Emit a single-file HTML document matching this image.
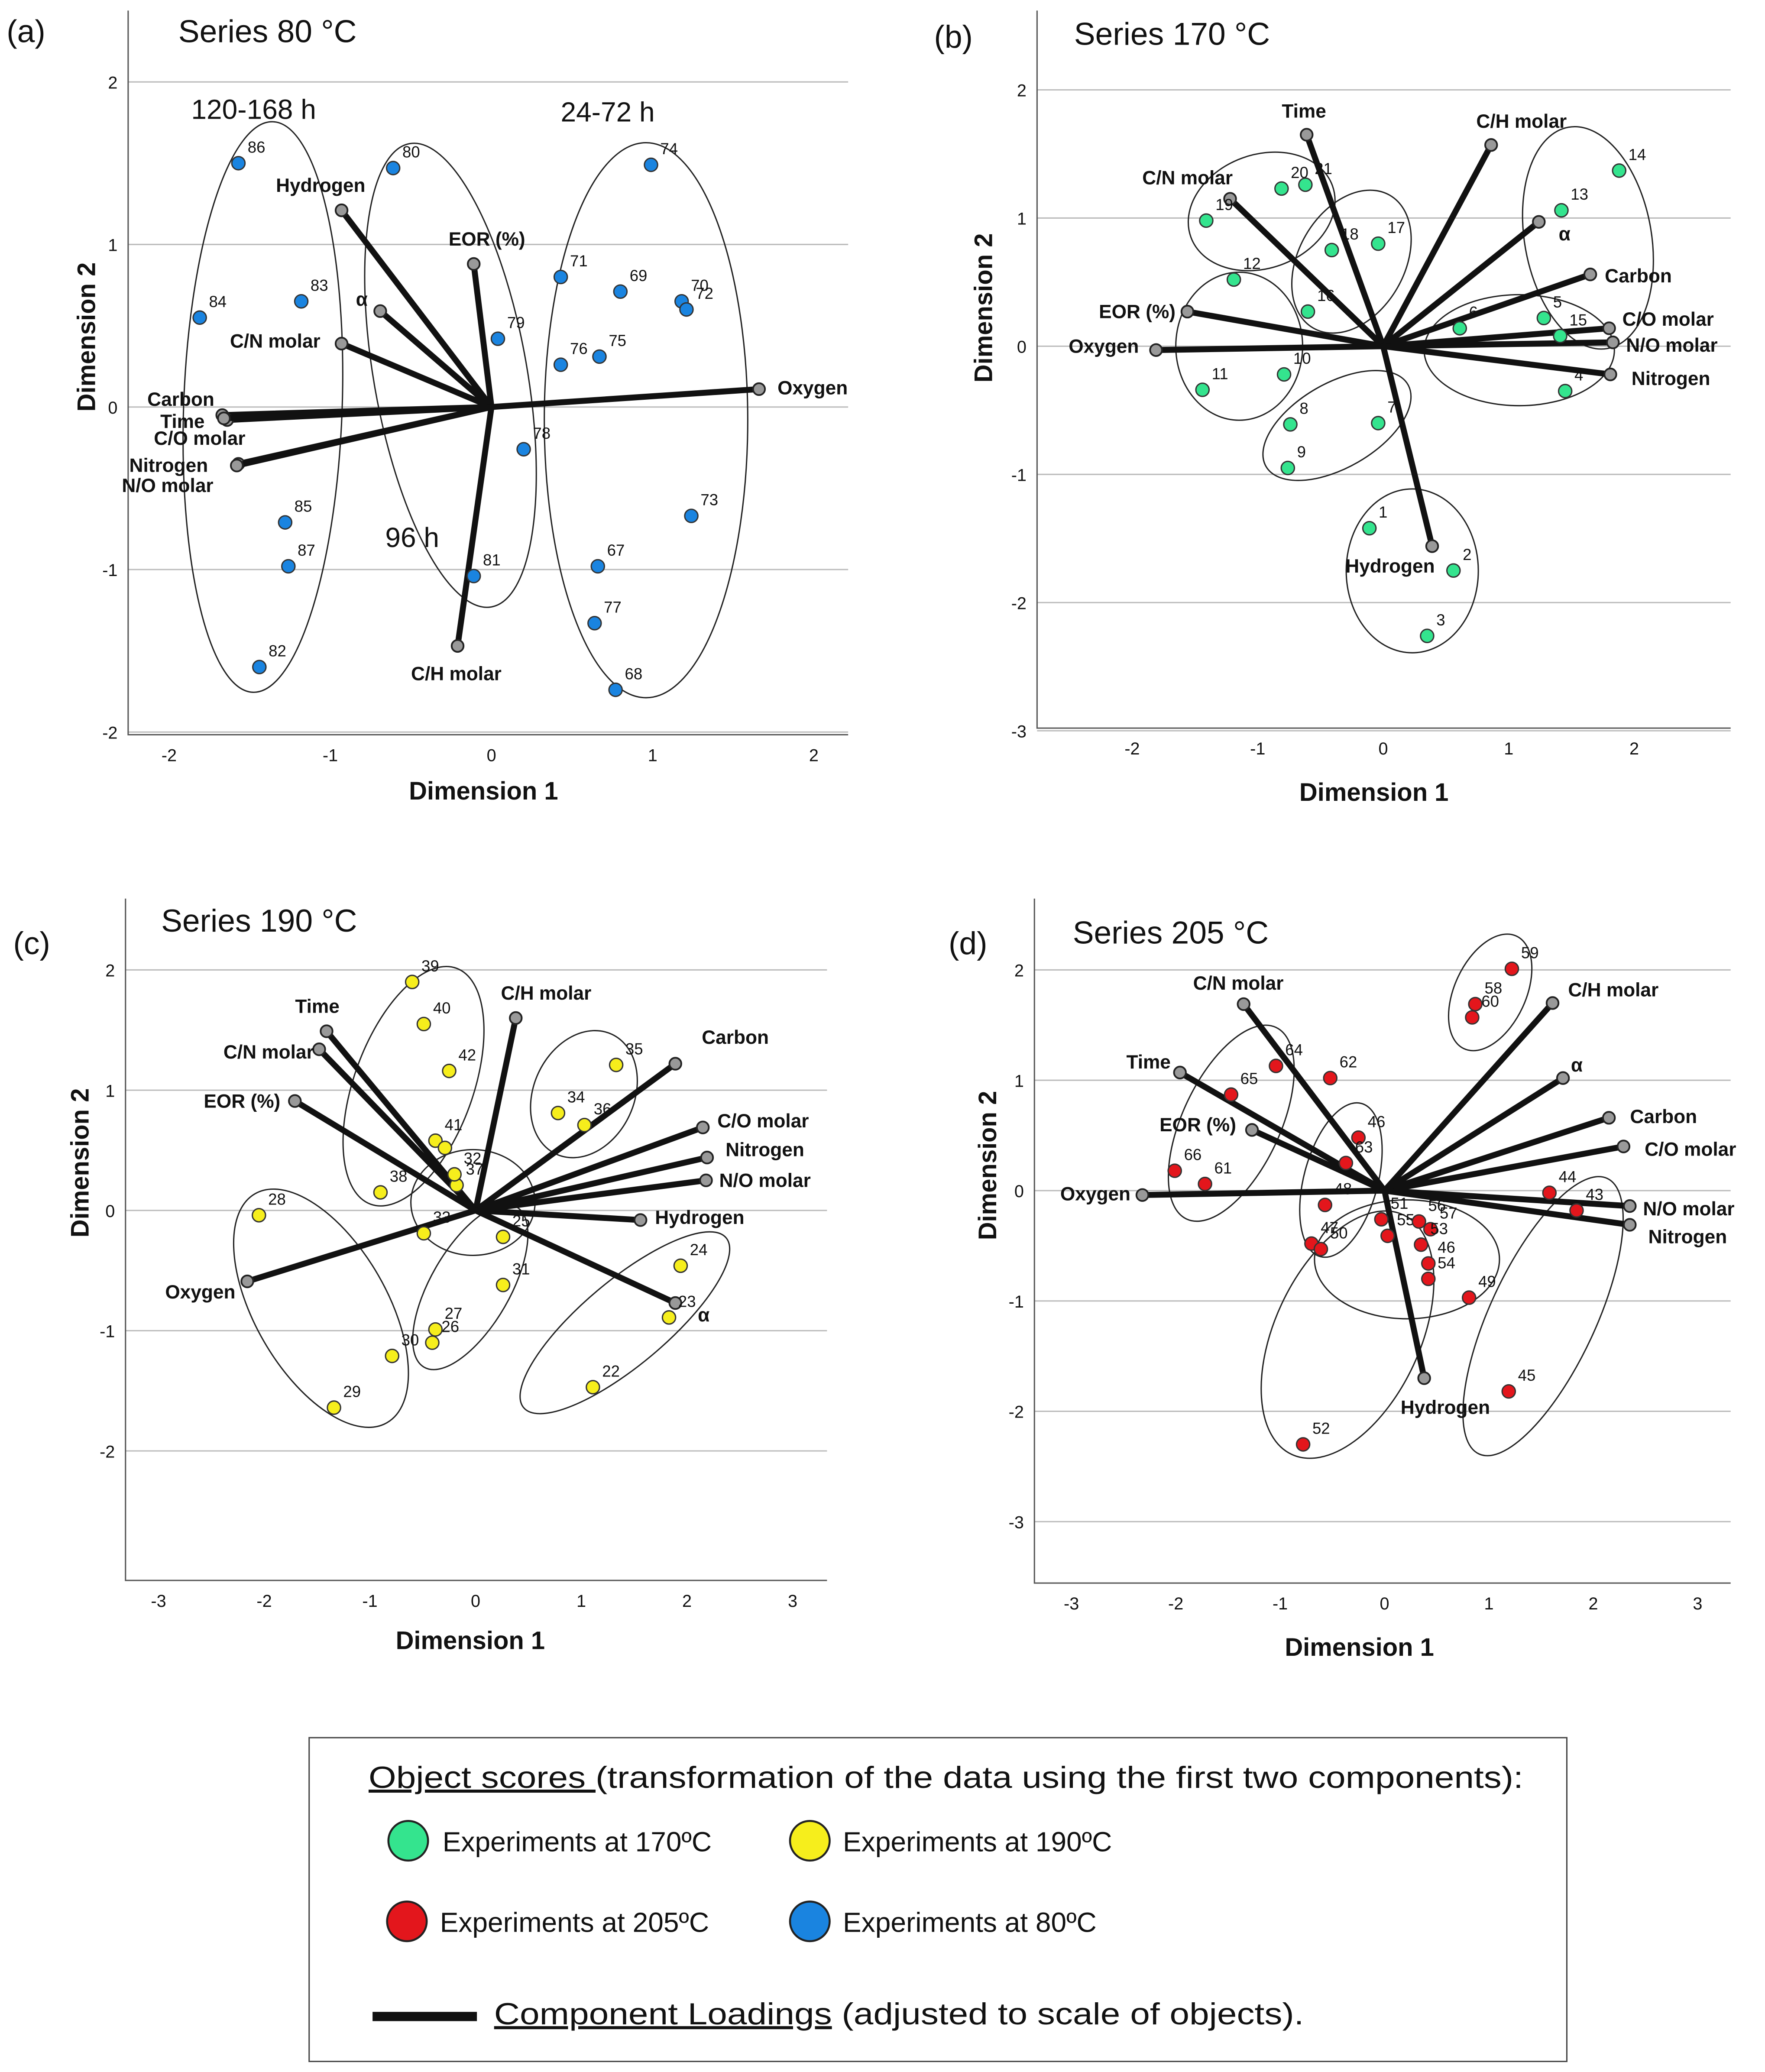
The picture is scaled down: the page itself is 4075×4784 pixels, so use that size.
<!DOCTYPE html>
<html><head><meta charset="utf-8">
<style>
html,body{margin:0;padding:0;background:#fff;}
svg{display:block;}
text{font-family:"Liberation Sans",Arial,sans-serif;fill:#111;}
.tick{font-size:13px;}
.pl{font-size:12px;}
.ld{font-size:14.5px;font-weight:bold;}
.ttl{font-size:24px;}
.ax{font-size:19px;font-weight:bold;}
.lg{font-size:21px;}
.lgw{font-size:23px;}
</style></head>
<body>
<svg id="chart" width="4075" height="4784" viewBox="0 0 1336 1568" preserveAspectRatio="none" xmlns="http://www.w3.org/2000/svg">
<g id="root"></g>
<g>
 <rect x="234" y="1315" width="952" height="245" fill="#fff" stroke="#444" stroke-width="1"/>
 <text class="lgw" x="279" y="1353" textLength="874" lengthAdjust="spacingAndGlyphs"><tspan text-decoration="underline">Object scores </tspan>(transformation of the data using the first two components):</text>
 <circle cx="309" cy="1393" r="15" fill="#34e48e" stroke="#222" stroke-width="1.5"/>
 <text class="lg" x="335" y="1401">Experiments at 170ºC</text>
 <circle cx="613" cy="1393" r="15" fill="#f6ee1c" stroke="#222" stroke-width="1.5"/>
 <text class="lg" x="638" y="1401">Experiments at 190ºC</text>
 <circle cx="308" cy="1454" r="15" fill="#e3161c" stroke="#222" stroke-width="1.5"/>
 <text class="lg" x="333" y="1462">Experiments at 205ºC</text>
 <circle cx="613" cy="1454" r="15" fill="#1a84e0" stroke="#222" stroke-width="1.5"/>
 <text class="lg" x="638" y="1462">Experiments at 80ºC</text>
 <line x1="282" y1="1526" x2="361" y2="1526" stroke="#111" stroke-width="7"/>
 <text class="lgw" x="374" y="1532" textLength="613" lengthAdjust="spacingAndGlyphs"><tspan text-decoration="underline">Component Loadings</tspan> (adjusted to scale of objects).</text>
</g>
</svg>
<script>
// ---- Panel (a) data: Series 80 °C ----
const aPtLabels=["86","80","74","84","83","71","69","70","72","79","76","75","78","85","87","73","81","67","77","82","68"];
const aPtX=[-1.57,-0.61,0.99,-1.81,-1.18,0.43,0.80,1.18,1.21,0.04,0.43,0.67,0.20,-1.28,-1.26,1.24,-0.11,0.66,0.64,-1.44,0.77];
const aPtY=[1.50,1.47,1.49,0.55,0.65,0.80,0.71,0.65,0.60,0.42,0.26,0.31,-0.26,-0.71,-0.98,-0.67,-1.04,-0.98,-1.33,-1.60,-1.74];
const aLdNames=["Hydrogen","α","EOR (%)","C/N molar","Carbon","Time","C/O molar","Nitrogen","N/O molar","Oxygen","C/H molar"];
const aLdX=[-0.93,-0.69,-0.11,-0.93,-1.67,-1.64,-1.66,-1.57,-1.58,1.66,-0.21];
const aLdY=[1.21,0.59,0.88,0.39,-0.05,-0.08,-0.07,-0.35,-0.36,0.11,-1.47];
const aTicksX=[-2,-1,0,1,2];
const aTicksY=[2,1,0,-1,-2];
// ---- Panel (b) data: Series 170 °C ----
const bPtLabels=["14","13","20","21","19","18","17","12","16","6","5","15","10","11","4","8","7","9","1","2","3"];
const bPtX=[1.88,1.42,-0.81,-0.62,-1.41,-0.41,-0.04,-1.19,-0.60,0.61,1.28,1.41,-0.79,-1.44,1.45,-0.74,-0.04,-0.76,-0.11,0.56,0.35];
const bPtY=[1.37,1.06,1.23,1.26,0.98,0.75,0.80,0.52,0.27,0.14,0.22,0.08,-0.22,-0.34,-0.35,-0.61,-0.60,-0.95,-1.42,-1.75,-2.26];
const bLdNames=["Time","C/H molar","C/N molar","α","Carbon","EOR (%)","Oxygen","C/O molar","N/O molar","Nitrogen","Hydrogen"];
const bLdX=[-0.61,0.86,-1.22,1.24,1.65,-1.56,-1.81,1.80,1.83,1.81,0.39];
const bLdY=[1.65,1.57,1.15,0.97,0.56,0.27,-0.03,0.14,0.03,-0.22,-1.56];
const bTicksX=[-2,-1,0,1,2];
const bTicksY=[2,1,0,-1,-2,-3];
// ---- Panel (c) data: Series 190 °C ----
const cPtLabels=["39","40","42","41","","37","38","32","33","25","31","27","26","30","29","28","35","34","36","24","23","22"];
const cPtX=[-0.60,-0.49,-0.25,-0.38,-0.29,-0.18,-0.90,-0.20,-0.49,0.26,0.26,-0.38,-0.41,-0.79,-1.34,-2.05,1.33,0.78,1.03,1.94,1.83,1.11];
const cPtY=[1.90,1.55,1.16,0.58,0.52,0.21,0.15,0.30,-0.19,-0.22,-0.62,-0.99,-1.10,-1.21,-1.64,-0.04,1.21,0.81,0.71,-0.46,-0.89,-1.47];
const cLdNames=["Time","C/N molar","EOR (%)","C/H molar","Carbon","C/O molar","Nitrogen","N/O molar","Hydrogen","α","Oxygen"];
const cLdX=[-1.41,-1.48,-1.71,0.38,1.89,2.15,2.19,2.18,1.56,1.89,-2.16];
const cLdY=[1.49,1.34,0.91,1.60,1.22,0.69,0.44,0.25,-0.08,-0.77,-0.59];
const cTicksX=[-3,-2,-1,0,1,2,3];
const cTicksY=[2,1,0,-1,-2];
// ---- Panel (d) data: Series 205 °C ----
const dPtLabels=["59","58","60","64","65","62","46","61","66","63","48","47","50","51","55","56","57","53","46","54","49","44","43","45","52"];
const dPtX=[1.22,0.87,0.84,-1.04,-1.47,-0.52,-0.25,-1.72,-2.01,-0.37,-0.57,-0.70,-0.61,-0.03,0.03,0.33,0.44,0.35,0.42,0.42,0.81,1.58,1.84,1.19,-0.78];
const dPtY=[2.01,1.69,1.57,1.13,0.87,1.02,0.48,0.06,0.18,0.25,-0.13,-0.48,-0.53,-0.26,-0.41,-0.28,-0.35,-0.49,-0.66,-0.80,-0.97,-0.02,-0.18,-1.82,-2.30];
const dLdNames=["C/N molar","C/H molar","Time","α","EOR (%)","Carbon","C/O molar","Oxygen","N/O molar","Nitrogen","Hydrogen"];
const dLdX=[-1.35,1.61,-1.96,1.71,-1.27,2.15,2.29,-2.32,2.35,2.35,0.38];
const dLdY=[1.69,1.70,1.07,1.02,0.55,0.66,0.40,-0.04,-0.14,-0.31,-1.70];
const dTicksX=[-3,-2,-1,0,1,2,3];
const dTicksY=[2,1,0,-1,-2,-3];

const NS="http://www.w3.org/2000/svg";
const root=document.getElementById('root');
function mk(tag,attrs,parent,txt){const e=document.createElementNS(NS,tag);for(const k in attrs)e.setAttribute(k,attrs[k]);if(txt!==undefined)e.textContent=txt;(parent||root).appendChild(e);return e;}

const layouts={
a:{"Hydrogen":[18,-14,"end"],"α":[-14,-4,"middle"],"EOR (%)":[10,-14,"middle"],"C/N molar":[-16,3,"end"],"Carbon":[-6,-7,"end"],"Time":[-17,6,"end"],"C/O molar":[-53,20,"start"],"Nitrogen":[-23,6,"end"],"N/O molar":[-87,20,"start"],"Oxygen":[14,4,"start"],"C/H molar":[-1,26,"middle"]},
b:{"Time":[-2,-13,"middle"],"C/H molar":[23,-13,"middle"],"C/N molar":[2,-11,"end"],"α":[15,14,"start"],"Carbon":[11,6,"start"],"EOR (%)":[-9,5,"end"],"Oxygen":[-13,2,"end"],"C/O molar":[10,-2,"start"],"N/O molar":[10,7,"start"],"Nitrogen":[16,8,"start"],"Hydrogen":[2,20,"end"]},
c:{"Time":[-7,-14,"middle"],"C/N molar":[-4,7,"end"],"EOR (%)":[-11,5,"end"],"C/H molar":[23,-14,"middle"],"Carbon":[20,-15,"start"],"C/O molar":[11,0,"start"],"Nitrogen":[14,-1,"start"],"N/O molar":[10,5,"start"],"Hydrogen":[11,3,"start"],"α":[17,14,"start"],"Oxygen":[-9,13,"end"]},
d:{"C/N molar":[-4,-11,"middle"],"C/H molar":[46,-5,"middle"],"Time":[-7,-3,"end"],"α":[6,-5,"start"],"EOR (%)":[-12,1,"end"],"Carbon":[16,4,"start"],"C/O molar":[16,7,"start"],"Oxygen":[-9,4,"end"],"N/O molar":[10,7,"start"],"Nitrogen":[14,14,"start"],"Hydrogen":[16,27,"middle"]}
};

function panel(o){
  const g=mk('g',{});
  
  
  const sx=v=>o.x0+v*o.kx, sy=v=>o.y0-v*o.ky;
  o.ty.forEach(t=>{const l=mk('line',{x1:o.L,x2:o.R,y1:sy(t),y2:sy(t),stroke:'#bbb','stroke-width':1},g);
    
    const tx=mk('text',{class:'tick',x:o.L-8,y:sy(t)+5,'text-anchor':'end'},g,String(t));
    });
  o.tx.forEach(t=>{const tx=mk('text',{class:'tick',x:sx(t),y:o.B+20,'text-anchor':'middle'},g,String(t));
    });
  const ax=mk('path',{d:`M${o.L},${o.T}V${o.B}H${o.R}`,fill:'none',stroke:'#555','stroke-width':1},g);
  
  o.ell.forEach(e=>{const el=mk('ellipse',{cx:e[0],cy:e[1],rx:e[2],ry:e[3],transform:`rotate(${e[4]} ${e[0]} ${e[1]})`,fill:'none',stroke:'#222','stroke-width':1},g);
    });
  const lay=layouts[o.id];
  o.ln.forEach((n,i)=>{const X=sx(o.lx[i]),Y=sy(o.ly[i]);
    const l=mk('line',{x1:o.x0,y1:o.y0,x2:X,y2:Y,stroke:'#111','stroke-width':4.5,'stroke-linecap':'round'},g);
    
    const c=mk('circle',{cx:X,cy:Y,r:4.5,fill:'#999',stroke:'#222','stroke-width':1.3},g);
    
    const L=lay[n]||[8,4,'start'];
    const t=mk('text',{class:'ld',x:X+L[0],y:Y+L[1],'text-anchor':L[2]},g,n);
    });
  o.pl.forEach((n,i)=>{const X=sx(o.px[i]),Y=sy(o.py[i]);
    const c=mk('circle',{cx:X,cy:Y,r:5,fill:o.col,stroke:'#333','stroke-width':1},g);
    
    if(n){const t=mk('text',{class:'pl',x:X+7,y:Y-8,'font-size':o.fs},g,n);
      }});
  const p=mk('text',{class:'ttl',x:o.pX,y:o.pY},g,'('+o.id+')');
  
  const tt=mk('text',{class:'ttl',x:o.tX,y:o.tY},g,o.title);
  
  const xt=mk('text',{class:'ax',x:o.xtX,y:o.xtY,'text-anchor':'middle'},g,'Dimension 1');
  
  const yt=mk('text',{class:'ax',x:0,y:0,'text-anchor':'middle',transform:`translate(${o.ytX},${o.ytY}) rotate(-90)`},g,'Dimension 2');
  
  (o.extra||[]).forEach(e=>{const t=mk('text',{x:e[0],y:e[1],'font-size':21,'text-anchor':'middle'},g,e[2]);
    });
}

panel({id:'a',title:'Series 80 °C',pX:5,pY:32,tX:135,tY:32,L:97,R:642,T:8,B:556,x0:372,y0:308,kx:122,ky:123,
 tx:aTicksX,ty:aTicksY,pl:aPtLabels,px:aPtX,py:aPtY,ln:aLdNames,lx:aLdX,ly:aLdY,col:'#1a84e0',fs:11,
 xtX:366,xtY:605,ytX:72,ytY:255,
 ell:[[199,308,60,216,2],[341,284,58,178,-10],[489,318,77,210,0]],
 extra:[[192,90,'120-168 h'],[460,92,'24-72 h'],[312,414,'96 h']]});
panel({id:'b',title:'Series 170 °C',pX:707,pY:36,tX:813,tY:34,L:785,R:1310,T:8,B:551,x0:1047,y0:262,kx:95,ky:97,
 tx:bTicksX,ty:bTicksY,pl:bPtLabels,px:bPtX,py:bPtY,ln:bLdNames,lx:bLdX,ly:bLdY,col:'#34e48e',fs:11,
 xtX:1040,xtY:606,ytX:751,ytY:233,
 ell:[[955,160,57,43,-20],[1023,198,40,58,30],[938,262,48,56,0],[1012,322,62,32,-30],[1202,180,48,85,-10],[1150,265,72,42,0],[1069,432,50,62,0]]});
panel({id:'c',title:'Series 190 °C',pX:10,pY:722,tX:122,tY:705,L:95,R:626,T:680,B:1196,x0:360,y0:916,kx:80,ky:91,
 tx:cTicksX,ty:cTicksY,pl:cPtLabels,px:cPtX,py:cPtY,ln:cLdNames,lx:cLdX,ly:cLdY,col:'#f6ee1c',fs:14,
 xtX:356,xtY:1248,ytX:67,ytY:880,
 ell:[[313,822,45,95,20],[442,828,38,50,25],[358,910,47,40,0],[356,974,30,70,30],[243,990,50,100,-30],[473,1001,32,100,50]]});
panel({id:'d',title:'Series 205 °C',pX:718,pY:722,tX:812,tY:714,L:783,R:1310,T:680,B:1198,x0:1048,y0:901,kx:79,ky:83.5,
 tx:dTicksX,ty:dTicksY,pl:dPtLabels,px:dPtX,py:dPtY,ln:dLdNames,lx:dLdX,ly:dLdY,col:'#e3161c',fs:14,
 xtX:1029,xtY:1253,ytX:754,ytY:882,
 ell:[[1128,751,27,47,25],[932,850,37,80,25],[1015,893,28,60,15],[1020,1010,55,100,25],[1065,953,70,45,0],[1168,996,40,115,25]]});
</script>
</body></html>
